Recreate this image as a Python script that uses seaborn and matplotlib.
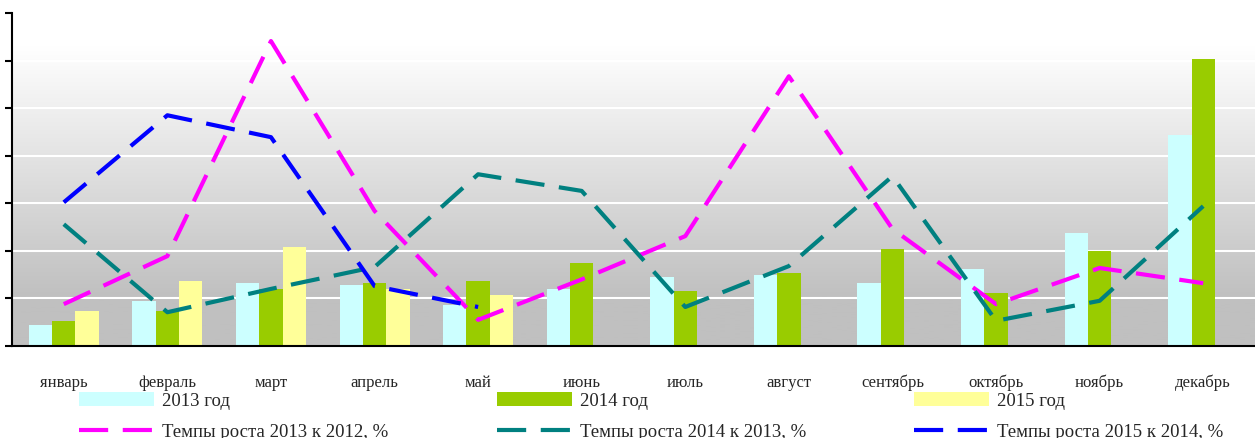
import matplotlib
matplotlib.use('Agg')
import matplotlib.pyplot as plt
import numpy as np
import pandas as pd
import seaborn as sns
from matplotlib.colors import LinearSegmentedColormap
from matplotlib.patches import Patch
from matplotlib.lines import Line2D

months = ['январь', 'февраль', 'март', 'апрель', 'май', 'июнь',
          'июль', 'август', 'сентябрь', 'октябрь', 'ноябрь', 'декабрь']
years = ['2013 год', '2014 год', '2015 год']

vol_2013 = [0.44, 0.95, 1.32, 1.28, 0.86, 1.20, 1.45, 1.49, 1.32, 1.62, 2.37, 4.43]
vol_2014 = [0.53, 0.74, 1.20, 1.32, 1.37, 1.74, 1.16, 1.53, 2.04, 1.11, 2.00, 6.03]
vol_2015 = [0.74, 1.37, 2.08, 1.20, 1.07]

growth_2013 = [0.88, 1.89, 6.41, 2.84, 0.55, 1.40, 2.31, 5.67, 2.46, 0.88, 1.64, 1.32]
growth_2014 = [2.56, 0.71, 1.20, 1.66, 3.61, 3.26, 0.82, 1.68, 3.57, 0.53, 0.95, 2.94]
growth_2015 = [3.02, 4.85, 4.39, 1.26, 0.82]

growth_labels = ['Темпы роста 2013 к 2012, %', 'Темпы роста 2014 к 2013, %',
                 'Темпы роста 2015 к 2014, %']

bar_colors = ['#CCFFFF', '#99CC00', '#FFFF99']
line_colors = ['#FF00FF', '#008080', '#0000FF']

# long table for the bars
rows = []
for yr, vals in zip(years, [vol_2013, vol_2014, vol_2015]):
    for m, v in zip(months, vals):
        rows.append({'month': m, 'year': yr, 'value': v})
df_bars = pd.DataFrame(rows)

sns.set_style('white')
plt.rcParams['font.family'] = ['Liberation Serif', 'DejaVu Serif']

fig = plt.figure(figsize=(12.55, 4.39), dpi=100)
ax = fig.add_axes([12 / 1255, 92 / 439, 1243 / 1255, 333 / 439])

# background gradient: white at the top, grey at the bottom
cmap = LinearSegmentedColormap.from_list(
    'bg', [(0, '#ffffff'), (0.1, '#ffffff'), (0.85, '#c0c0c0'), (1, '#c0c0c0')], N=256)
grad = np.linspace(1, 0, 256).reshape(-1, 1)
ax.imshow(grad, extent=[0, 1, 0, 1], origin='lower', transform=ax.transAxes,
          cmap=cmap, aspect='auto', zorder=0)

sns.barplot(data=df_bars, x='month', y='value', hue='year', order=months,
            hue_order=years, palette=bar_colors, width=0.675, gap=0,
            saturation=1, legend=False, ax=ax, zorder=2, linewidth=0)

x = np.arange(12)
dash = (0, (7, 3.5))
for vals, col in zip([growth_2013, growth_2014, growth_2015], line_colors):
    sns.lineplot(x=x[:len(vals)], y=vals, color=col, lw=3, linestyle=dash,
                 ax=ax, zorder=3)

ax.set_xlim(-0.5, 11.406)
ax.set_ylim(0, 7)
ax.set_yticks(range(8))
ax.set_yticklabels([])
ax.set_xlabel('')
ax.set_ylabel('')
ax.grid(axis='y', color='white', lw=1.5, zorder=1)
ax.set_axisbelow(True)
ax.set_xticks(x)
ax.set_xticklabels(months, fontsize=12)
ax.set_xticks(np.arange(-0.5, 12, 1), minor=True)
ax.tick_params(axis='x', which='major', length=0, pad=20)
ax.tick_params(axis='x', which='minor', length=5, width=1.5, direction='out', color='black')
ax.tick_params(axis='y', length=5, width=1.5, direction='out', color='black', left=True)
for s in ['top', 'right']:
    ax.spines[s].set_visible(False)
for s in ['left', 'bottom']:
    ax.spines[s].set_color('black')
    ax.spines[s].set_linewidth(1.5)

handles, labels = [], []
for i in range(3):
    handles.append(Patch(facecolor=bar_colors[i], edgecolor='none'))
    labels.append(years[i])
    handles.append(Line2D([], [], color=line_colors[i], lw=3, linestyle=dash))
    labels.append(growth_labels[i])

fig.legend(handles, labels, ncol=3, loc='upper left',
           bbox_to_anchor=(79 / 1255, 1 - 393 / 439), frameon=False,
           prop={'family': 'Liberation Serif', 'size': 13.5},
           handlelength=4.0, handleheight=0.75, handletextpad=0.45,
           columnspacing=5.75, labelspacing=0.72, borderaxespad=0, borderpad=0)

fig.savefig('out.png', dpi=100)
